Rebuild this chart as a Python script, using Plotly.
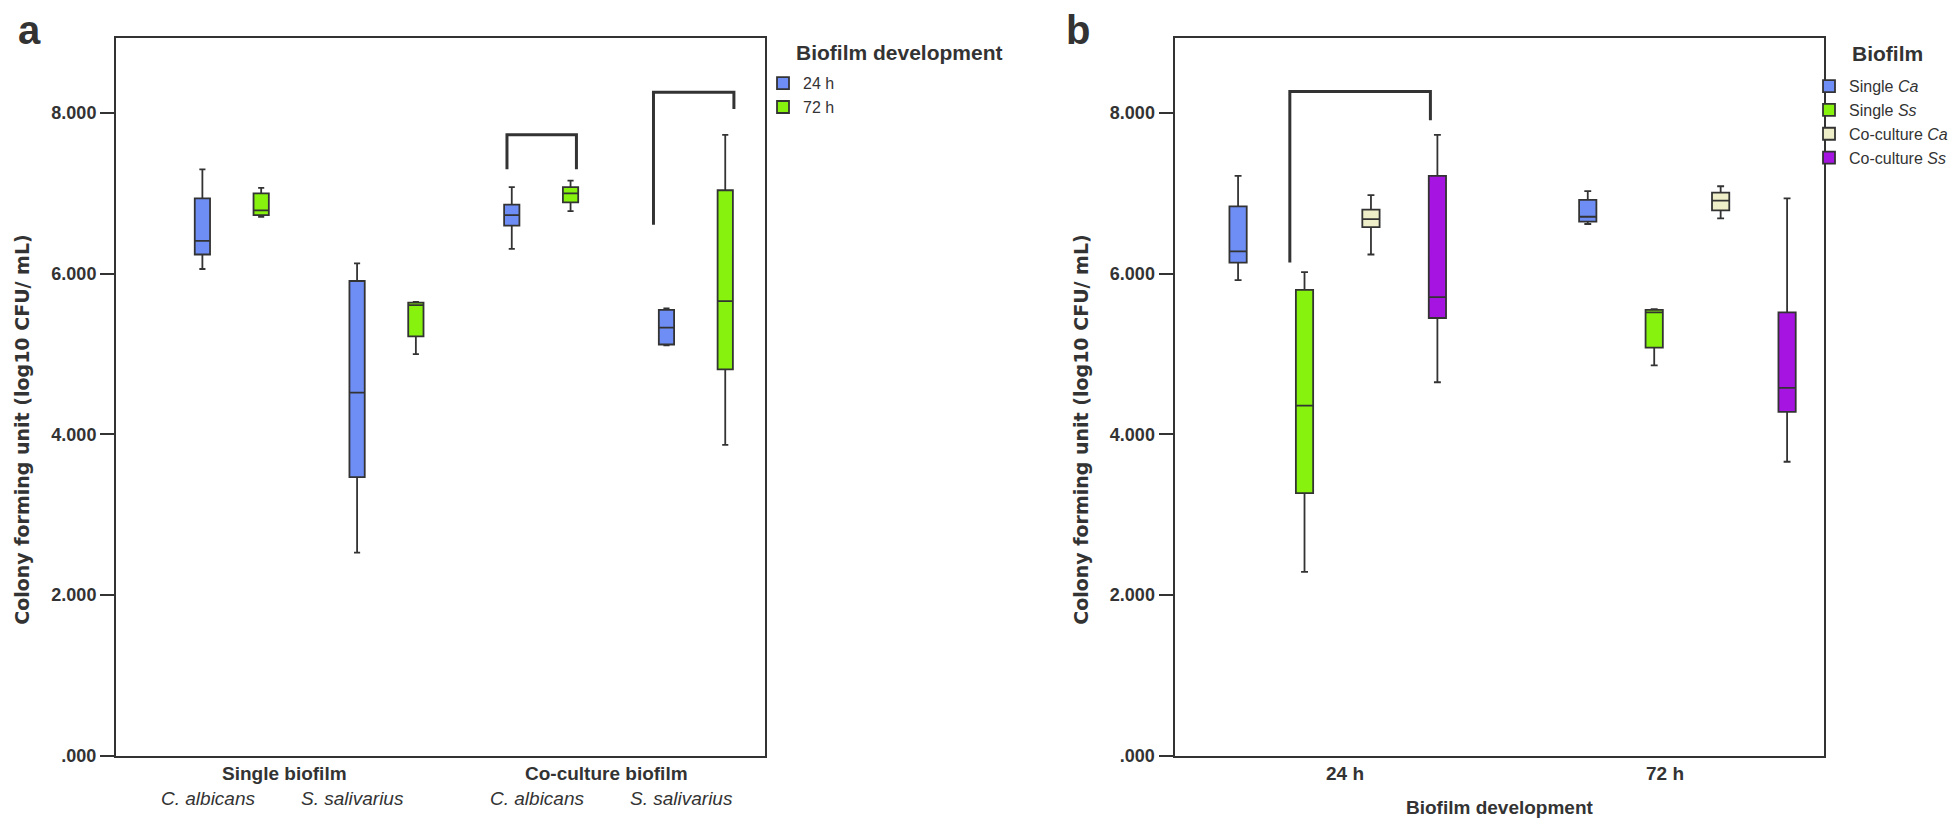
import plotly.graph_objects as go

# ---------------- data ----------------
# Panel a: x categories (biofilm type / species), two series (24 h, 72 h)
CATS_A = ["Single C. albicans", "Single S. salivarius", "Co-culture C. albicans", "Co-culture S. salivarius"]
SERIES_A = ["24 h", "72 h"]
A24_LOW = [6.06, 2.53, 6.31, 5.11]
A24_Q1 = [6.24, 3.47, 6.60, 5.12]
A24_MED = [6.41, 4.52, 6.73, 5.33]
A24_Q3 = [6.94, 5.91, 6.86, 5.55]
A24_HIGH = [7.30, 6.13, 7.08, 5.57]

A72_LOW = [6.71, 5.00, 6.78, 3.87]
A72_Q1 = [6.73, 5.22, 6.89, 4.81]
A72_MED = [6.79, 5.61, 7.00, 5.66]
A72_Q3 = [7.00, 5.64, 7.08, 7.04]
A72_HIGH = [7.07, 5.65, 7.16, 7.73]

# Panel b: x categories (time), four series
CATS_B = ["24 h", "72 h"]
SERIES_B = ["Single <i>Ca</i>", "Single <i>Ss</i>", "Co-culture <i>Ca</i>", "Co-culture <i>Ss</i>"]
B_LOW = [[5.92, 6.62], [2.29, 4.86], [6.24, 6.69], [4.65, 3.66]]
B_Q1 = [[6.14, 6.65], [3.27, 5.08], [6.58, 6.79], [5.45, 4.28]]
B_MED = [[6.28, 6.71], [4.36, 5.52], [6.68, 6.91], [5.71, 4.58]]
B_Q3 = [[6.84, 6.92], [5.80, 5.55], [6.80, 7.01], [7.22, 5.52]]
B_HIGH = [[7.22, 7.03], [6.02, 5.56], [6.98, 7.09], [7.73, 6.94]]

# axis ticks
YTICKS = [0, 2, 4, 6, 8]
YTICKTEXT = [".000", "2.000", "4.000", "6.000", "8.000"]

# group / species labels of panel a
GROUP_LABELS_A = ["Single biofilm", "Co-culture biofilm"]
SPECIES_LABELS_A = ["C. albicans", "S. salivarius", "C. albicans", "S. salivarius"]

# significance brackets: (left leg x, right leg x, left leg bottom, right leg bottom, top)  [category index units]
BRACKETS_A = [(1.779, 2.228, 7.30, 7.30, 7.73), (2.726, 3.246, 6.61, 8.05, 8.26)]
BRACKETS_B = [(-0.137, 0.265, 6.14, 7.91, 8.27)]

# ---------------- style ----------------
W, H = 1960, 820
DARK = "#333333"
COLORS_A = ["#6e8ef5", "#86f20e"]
COLORS_B = ["#6e8ef5", "#86f20e", "#eeeec9", "#a514e1"]
FONT = "Liberation Sans, Arial, sans-serif"

def px_x(p):
    return p / W

def px_y(p):
    return 1 - p / H

fig = go.Figure()

a_stats = [
    (A24_LOW, A24_Q1, A24_MED, A24_Q3, A24_HIGH),
    (A72_LOW, A72_Q1, A72_MED, A72_Q3, A72_HIGH),
]
for name, color, (lo, q1, md, q3, hi) in zip(SERIES_A, COLORS_A, a_stats):
    fig.add_trace(go.Box(
        name=name, x=CATS_A, lowerfence=lo, q1=q1, median=md, q3=q3, upperfence=hi,
        fillcolor=color, line=dict(color=DARK, width=1.8), whiskerwidth=0.4,
        boxpoints=False, xaxis="x", yaxis="y", legend="legend",
        alignmentgroup="A", offsetgroup="A" + name,
    ))

for i, (name, color) in enumerate(zip(SERIES_B, COLORS_B)):
    fig.add_trace(go.Box(
        name=name, x=CATS_B, lowerfence=B_LOW[i], q1=B_Q1[i], median=B_MED[i], q3=B_Q3[i],
        upperfence=B_HIGH[i],
        fillcolor=color, line=dict(color=DARK, width=1.8), whiskerwidth=0.4,
        boxpoints=False, xaxis="x2", yaxis="y2", legend="legend2",
        alignmentgroup="B", offsetgroup="B%d" % i,
    ))

xa_dom = [px_x(108), px_x(757)]
xb_dom = [px_x(1166.5), px_x(1815.7)]
y_dom = [px_y(757), px_y(30)]

common_x = dict(showline=True, mirror=True, linecolor=DARK, linewidth=2, ticks="",
                showticklabels=False, showgrid=False, zeroline=False, type="category")
common_y = dict(showline=True, mirror=True, linecolor=DARK, linewidth=2, ticks="outside",
                ticklen=14, tickwidth=2, tickcolor=DARK, tickvals=YTICKS, ticktext=YTICKTEXT,
                tickfont=dict(family=FONT, size=18, color=DARK, weight="bold"),
                showgrid=False, zeroline=False, range=[0, 8.94], domain=y_dom)

fig.update_layout(
    width=W, height=H, autosize=False,
    margin=dict(l=0, r=0, t=0, b=0),
    paper_bgcolor="white", plot_bgcolor="white",
    boxmode="group", boxgap=0.24, boxgroupgap=0.74,
    xaxis=dict(domain=xa_dom, range=[-0.7485, 3.447], anchor="y", **common_x),
    yaxis=dict(anchor="x", **common_y),
    xaxis2=dict(domain=xb_dom, range=[-0.4668, 1.3897], anchor="y2", **common_x),
    yaxis2=dict(anchor="x2", **common_y),
    legend=dict(x=px_x(755), y=px_y(59), xanchor="left", yanchor="top",
                font=dict(family=FONT, size=16, color=DARK), bgcolor="rgba(0,0,0,0)",
                tracegroupgap=0, itemclick=False),
    legend2=dict(x=px_x(1801), y=px_y(62), xanchor="left", yanchor="top",
                 font=dict(family=FONT, size=16, color=DARK), bgcolor="rgba(0,0,0,0)",
                 tracegroupgap=0, itemclick=False),
    showlegend=True,
)

def note(text, x, y, xref="paper", size=19, family=FONT, xanchor="center", angle=0):
    return dict(text=text, x=x, y=y, xref=xref, yref="paper", showarrow=False,
                xanchor=xanchor, yanchor="middle", textangle=angle,
                font=dict(family=family, size=size, color=DARK))

ann = []
# panel letters
ann.append(note("<b>a</b>", px_x(21), px_y(22), size=40))
ann.append(note("<b>b</b>", px_x(1070), px_y(22), size=40))
# legend titles
ann.append(note("<b>Biofilm development</b>", px_x(786), px_y(45), size=21, xanchor="left"))
ann.append(note("<b>Biofilm</b>", px_x(1842), px_y(46), size=21, xanchor="left"))
# y axis titles
for xc in (14, 1073):
    ann.append(note("<b>Colony forming unit (log10 CFU/ mL)</b>", px_x(xc), px_y(427),
                    size=19, family="DejaVu Sans, sans-serif", angle=-90))
# panel a x labels
for lab, fx in zip(GROUP_LABELS_A, [0.26, 0.756]):
    ann.append(note("<b>%s</b>" % lab, fx, px_y(775), xref="x domain"))
for lab, fx in zip(SPECIES_LABELS_A, [0.141, 0.365, 0.649, 0.871]):
    ann.append(note("<i>%s</i>" % lab, fx, px_y(800), xref="x domain"))
# panel b x labels
for lab, fx in zip(CATS_B, [0.262, 0.756]):
    ann.append(note("<b>%s</b>" % lab, fx, px_y(775), xref="x2 domain"))
ann.append(note("<b>Biofilm development</b>", 0.502, px_y(809), xref="x2 domain"))
fig.update_layout(annotations=ann)

# brackets
shapes = []
for xr, yr, brs in (("x", "y", BRACKETS_A), ("x2", "y2", BRACKETS_B)):
    for x1, x2, yl, yrt, yt in brs:
        shapes.append(dict(type="path", xref=xr, yref=yr,
                           path="M %g,%g L %g,%g L %g,%g L %g,%g" % (x1, yl, x1, yt, x2, yt, x2, yrt),
                           line=dict(color=DARK, width=3)))
fig.update_layout(shapes=shapes)

fig.write_html("out.html")
